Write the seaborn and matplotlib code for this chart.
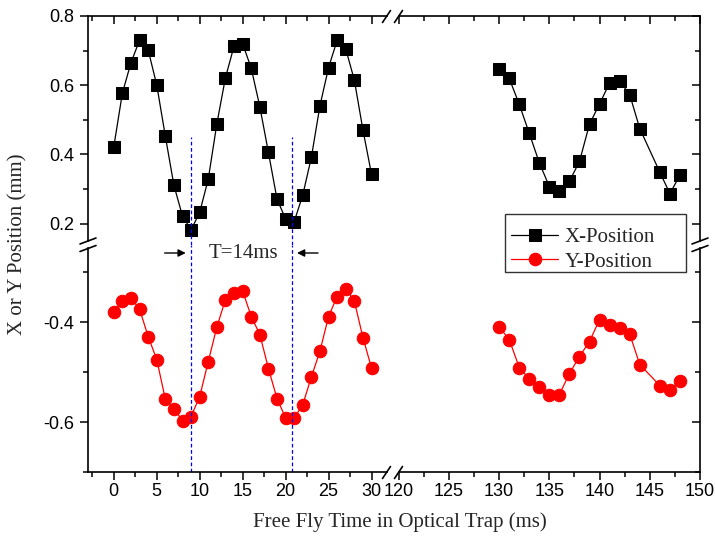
import numpy as np
import pandas as pd
import matplotlib
matplotlib.use('Agg')
import matplotlib.pyplot as plt
import seaborn as sns
from matplotlib.ticker import MultipleLocator, FormatStrFormatter
from matplotlib.lines import Line2D
from matplotlib.patches import Rectangle

# data
time_early = list(range(0, 31))
time_late = [130, 131, 132, 133, 134, 135, 136, 137, 138, 139, 140, 141, 142, 143, 144, 146, 147, 148]

x_early = [0.422, 0.577, 0.665, 0.730, 0.702, 0.601, 0.453, 0.311, 0.222, 0.182,
           0.233, 0.329, 0.489, 0.622, 0.713, 0.720, 0.649, 0.538, 0.406, 0.271,
           0.214, 0.206, 0.283, 0.392, 0.541, 0.651, 0.730, 0.705, 0.615, 0.471, 0.343]
x_late = [0.646, 0.620, 0.545, 0.461, 0.376, 0.307, 0.294, 0.323, 0.380, 0.488,
          0.546, 0.607, 0.612, 0.573, 0.475, 0.349, 0.287, 0.340]

y_early = [-0.380, -0.357, -0.352, -0.374, -0.429, -0.475, -0.554, -0.574, -0.597, -0.589,
           -0.549, -0.479, -0.410, -0.355, -0.342, -0.338, -0.389, -0.425, -0.493, -0.553,
           -0.592, -0.592, -0.565, -0.510, -0.458, -0.389, -0.349, -0.333, -0.358, -0.431, -0.492]
y_late = [-0.410, -0.435, -0.491, -0.514, -0.529, -0.545, -0.545, -0.503, -0.469, -0.439,
          -0.395, -0.405, -0.411, -0.424, -0.485, -0.527, -0.535, -0.518]

series_names = ['X-Position', 'Y-Position']
series_colors = {'X-Position': 'black', 'Y-Position': 'red'}
series_markers = {'X-Position': 's', 'Y-Position': 'o'}

marker_times = [9.0, 20.8]
marker_top = 0.45
period_label = 'T=14ms'
period_y = -0.262
arrow_left = (5.6, 8.7)
arrow_right = (24.1, 21.0)
period_text_x = 15.1

xlim_early = (-3, 32)
xlim_late = (119, 150)
ylim_top = (0.14, 0.8)
ylim_bottom = (-0.7, -0.245)

df = pd.DataFrame({'time': time_early + time_late,
                   'X-Position': x_early + x_late,
                   'Y-Position': y_early + y_late})
df['segment'] = np.where(df['time'] < 100, 'early', 'late')
long = df.melt(id_vars=['time', 'segment'], value_vars=series_names,
               var_name='series', value_name='pos')

sns.set_theme(style='ticks')
plt.rcParams['font.family'] = ['Liberation Sans', 'DejaVu Sans']
plt.rcParams['axes.unicode_minus'] = False
serif = ['Liberation Serif', 'DejaVu Serif']

W, H = 715, 540
def px(x, y):
    return x / W, 1 - y / H

fig = plt.figure(figsize=(7.15, 5.4), dpi=100)
gs = fig.add_gridspec(2, 2, left=88 / W, right=700 / W, top=1 - 16 / H, bottom=1 - 472 / H,
                      width_ratios=[300.7, 311.3], height_ratios=[228.5, 227.5],
                      wspace=0, hspace=0)
ax_tl = fig.add_subplot(gs[0, 0])
ax_tr = fig.add_subplot(gs[0, 1])
ax_bl = fig.add_subplot(gs[1, 0])
ax_br = fig.add_subplot(gs[1, 1])

panels = [(ax_tl, 'X-Position', 'early'), (ax_tr, 'X-Position', 'late'),
          (ax_bl, 'Y-Position', 'early'), (ax_br, 'Y-Position', 'late')]
for ax, name, seg in panels:
    sub = long[(long['series'] == name) & (long['segment'] == seg)]
    sns.lineplot(data=sub, x='time', y='pos', ax=ax, color=series_colors[name],
                 marker=series_markers[name], markersize=9, markeredgecolor=series_colors[name],
                 linewidth=0.9, estimator=None, legend=False)
    ax.set_xlabel('')
    ax.set_ylabel('')
    ax.set_xlim(xlim_early if seg == 'early' else xlim_late)
    ax.set_ylim(ylim_top if name == 'X-Position' else ylim_bottom)
    ax.xaxis.set_major_locator(MultipleLocator(5))
    ax.xaxis.set_minor_locator(MultipleLocator(2.5))
    ax.yaxis.set_major_locator(MultipleLocator(0.2))
    ax.yaxis.set_minor_locator(MultipleLocator(0.1))
    ax.yaxis.set_major_formatter(FormatStrFormatter('%.1f'))
    for sp in ax.spines.values():
        sp.set_linewidth(1.2)
        sp.set_color('black')

# spines and ticks for the broken layout
for ax in [ax_tl, ax_tr]:
    ax.spines['bottom'].set_visible(False)
    ax.tick_params(axis='x', which='both', bottom=False, labelbottom=False,
                   top=True, direction='in')
for ax in [ax_bl, ax_br]:
    ax.spines['top'].set_visible(False)
    ax.tick_params(axis='x', which='both', bottom=True, top=False, direction='out',
                   labelsize=13, pad=2)
for ax in [ax_tl, ax_bl]:
    ax.spines['right'].set_visible(False)
    ax.tick_params(axis='y', which='both', left=True, right=False, direction='out',
                   labelsize=13, pad=4)
for ax in [ax_tr, ax_br]:
    ax.spines['left'].set_visible(False)
    ax.tick_params(axis='y', which='both', left=False, labelleft=False, right=True,
                   direction='in')
for ax in [ax_tl, ax_tr, ax_bl, ax_br]:
    ax.tick_params(which='major', length=6, width=1.1, colors='black')
    ax.tick_params(which='minor', length=3.5, width=1.1, colors='black')

ax_tl.spines['top'].set_bounds(xlim_early[0], 31.75)
ax_bl.spines['bottom'].set_bounds(xlim_early[0], 31.75)
ax_tr.spines['top'].set_bounds(120, xlim_late[1])
ax_br.spines['bottom'].set_bounds(120, xlim_late[1])
ax_tl.spines['left'].set_bounds(0.151, ylim_top[1])
ax_tr.spines['right'].set_bounds(0.151, ylim_top[1])
ax_bl.spines['left'].set_bounds(ylim_bottom[0], -0.251)
ax_br.spines['right'].set_bounds(ylim_bottom[0], -0.251)

# break marks
for xc in [386.5, 398.5]:
    for yc in [16.5, 472.5]:
        (x0, y0), (x1, y1) = px(xc - 4, yc + 6), px(xc + 4, yc - 6)
        fig.add_artist(Line2D([x0, x1], [y0, y1], transform=fig.transFigure,
                              color='black', lw=1.2))
for xc in [88, 700]:
    for yc in [241, 248.5]:
        (x0, y0), (x1, y1) = px(xc - 8, yc + 3), px(xc + 8, yc - 3)
        fig.add_artist(Line2D([x0, x1], [y0, y1], transform=fig.transFigure,
                              color='black', lw=1.2))

# dashed period markers
for t in marker_times:
    ax_tl.vlines(t, ylim_top[0], marker_top, colors='blue', linestyles=(0, (3, 2)), lw=0.9)
    ax_bl.vlines(t, ylim_bottom[0], ylim_bottom[1], colors='blue', linestyles=(0, (3, 2)), lw=0.9)

ax_bl.annotate('', xy=(arrow_left[1], period_y), xytext=(arrow_left[0], period_y),
               arrowprops=dict(arrowstyle='-|>', color='black', lw=1, mutation_scale=11))
ax_bl.annotate('', xy=(arrow_right[1], period_y), xytext=(arrow_right[0], period_y),
               arrowprops=dict(arrowstyle='-|>', color='black', lw=1, mutation_scale=11))
ax_bl.text(period_text_x, period_y, period_label, ha='center', va='center',
           fontsize=15, family=serif)

# legend (frame drawn separately, Origin-style box with wide right margin)
x0, y0 = px(505, 272)
x1, y1 = px(686, 214)
fig.add_artist(Rectangle((x0, y0), x1 - x0, y1 - y0, transform=fig.transFigure,
                         facecolor='white', edgecolor='#333333', lw=1.0, zorder=5))
handles = [ax_tl.lines[0], ax_bl.lines[0]]
leg = fig.legend(handles, series_names, loc='upper left', bbox_to_anchor=px(505, 221),
                 prop={'family': serif, 'size': 15}, frameon=False,
                 handlelength=2.25, handletextpad=0.3,
                 borderpad=0.3, labelspacing=0.25, borderaxespad=0)
leg.set_zorder(6)

fig.text(*px(400, 522), 'Free Fly Time in Optical Trap (ms)', ha='center', va='center',
         fontsize=15, family=serif)
fig.text(*px(18, 244), 'X or Y Position (mm)', ha='center', va='center', rotation=90,
         fontsize=15, family=serif)

fig.savefig('out.png', dpi=100)
